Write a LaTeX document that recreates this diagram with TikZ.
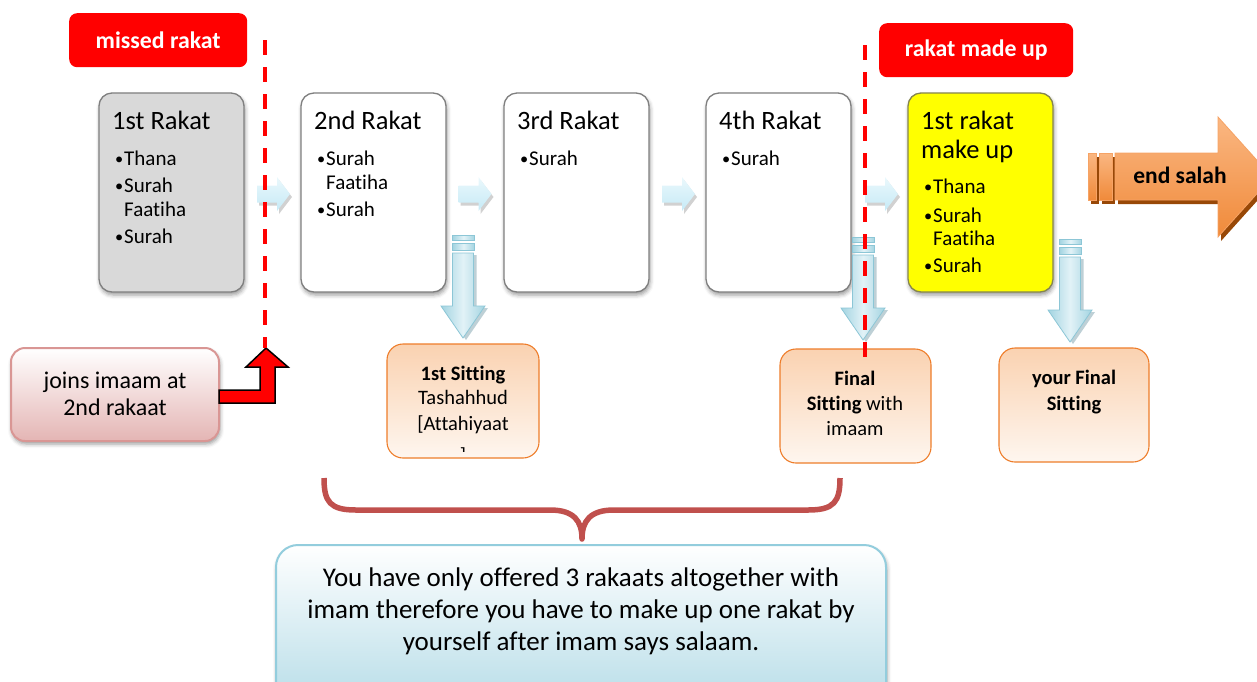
\documentclass[tikz,border=0pt]{standalone}
\usepackage{fontspec}
\setmainfont{Carlito}[Ligatures=NoCommon]
\usetikzlibrary{calc,shadows.blur}

\definecolor{cutred}{HTML}{FF0000}
\definecolor{framegray}{HTML}{7F7F7F}
\definecolor{missgray}{HTML}{D9D9D9}
\definecolor{makeyellow}{HTML}{FFFF00}
\definecolor{yelframe}{HTML}{85854F}
\definecolor{sitedge}{HTML}{EE7D2A}
\definecolor{sittop}{HTML}{FAD2B1}
\definecolor{sitbot}{HTML}{FEF6EF}
\definecolor{joinedge}{HTML}{D99694}
\definecolor{joinbot}{HTML}{E4B5B4}
\definecolor{notebot}{HTML}{B7DDE8}
\definecolor{noteedge}{HTML}{93CDDD}
\definecolor{bracered}{HTML}{C0504D}
\definecolor{flowlight}{HTML}{EAF8FC}
\definecolor{flowdark}{HTML}{C6EAF6}
\definecolor{downmid}{HTML}{E2F2F7}
\definecolor{downside}{HTML}{A3D4E1}
\definecolor{downedge}{HTML}{8CC6D6}
\definecolor{downshade}{HTML}{6F97A3}
\definecolor{endtop}{HTML}{FAB782}
\definecolor{endbot}{HTML}{F08A3A}
\definecolor{endedge}{HTML}{F6A365}
\definecolor{endshadow}{HTML}{984807}

% bullet with a fixed hanging width
\newcommand\bul{\makebox[9pt][l]{\raisebox{0.8pt}{\scalebox{0.78}{\textbullet}}}}
\newcommand\hang{\hspace*{9pt}}

\begin{document}
\begin{tikzpicture}[x=1pt,y=-1pt,
  softshadow/.style={blur shadow={shadow xshift=1pt, shadow yshift=-3pt,
      shadow blur radius=4pt, shadow opacity=40}},
  rakatbox/.style={draw=framegray, line width=1.3pt, rounded corners=13pt,
      fill=white, anchor=north west, inner sep=0pt, outer sep=0pt,
      minimum width=145pt, minimum height=199pt, softshadow},
  title/.style={anchor=base west, inner sep=0pt, font=\fontsize{26.5pt}{31pt}\selectfont},
  item/.style={anchor=base west, inner sep=0pt, font=\fontsize{21pt}{25pt}\selectfont},
  tag/.style={fill=cutred, rounded corners=8pt, text=white, inner sep=0pt,
      anchor=north west, font=\bfseries\fontsize{23.8pt}{28pt}\selectfont},
  sitbox/.style={draw=sitedge, line width=1.1pt, rounded corners=16pt,
      top color=sittop, bottom color=sitbot, anchor=north west,
      inner sep=0pt, outer sep=0pt},
  sittxt/.style={anchor=base, inner sep=0pt, font=\fontsize{20.5pt}{25pt}\selectfont},
  joinbox/.style={draw=joinedge, line width=2pt, rounded corners=14pt,
      top color=white, bottom color=joinbot, anchor=north west,
      inner sep=0pt, outer sep=0pt, softshadow},
  jointxt/.style={anchor=base, inner sep=0pt, font=\fontsize{24pt}{29pt}\selectfont},
  notebox/.style={draw=noteedge, line width=2pt, rounded corners=22pt,
      top color=white, bottom color=notebot, anchor=north west,
      inner sep=0pt, outer sep=0pt, softshadow},
  notetxt/.style={anchor=base, inner sep=0pt, font=\fontsize{27pt}{32pt}\selectfont},
  reddash/.style={draw=cutred, line width=3.5pt, dash pattern=on 15pt off 12pt},
  bentarrow/.style={fill=cutred, draw=black, line width=1.5pt, line join=miter},
  brace/.style={draw=bracered, line width=5.5pt, line join=round},
  % light arrow between two rakat boxes
  flowright/.pic={
    \begin{scope}[shift={(2,3)}]
      \fill[black, opacity=0.18] (-16.5,-8.5) -- (3.5,-8.5) -- (3.5,-17) -- (16.5,0)
        -- (3.5,17) -- (3.5,8.5) -- (-16.5,8.5) -- cycle;
    \end{scope}
    \shade[top color=flowlight, bottom color=flowdark]
      (-16.5,-8.5) -- (3.5,-8.5) -- (3.5,-17) -- (16.5,0)
      -- (3.5,17) -- (3.5,8.5) -- (-16.5,8.5) -- cycle;
  },
  % striped downward arrow, origin at its tip
  dropdown/.pic={
    \begin{scope}[shift={(3,2)}]
      \fill[downshade, opacity=0.45] (-10.5,-85) -- (10.5,-85) -- (10.5,-32) -- (22,-32)
        -- (0,0) -- (-22,-32) -- (-10.5,-32) -- cycle;
    \end{scope}
    \shadedraw[left color=downside, right color=downside, middle color=downmid,
        draw=downedge, line width=0.8pt]
      (-10.5,-103) rectangle (11.5,-98);
    \shadedraw[left color=downside, right color=downside, middle color=downmid,
        draw=downedge, line width=0.8pt]
      (-10.5,-95) rectangle (11.5,-88);
    \shadedraw[left color=downside, right color=downside, middle color=downmid,
        draw=downedge, line width=0.8pt]
      (-10.5,-85) -- (10.5,-85) -- (10.5,-32) -- (22,-32)
      -- (0,0) -- (-22,-32) -- (-10.5,-32) -- cycle;
  }
]
\useasboundingbox (0,0) rectangle (1257,681);
\clip (0,0) rectangle (1257,681);

% the five rakat boxes
\node[rakatbox, fill=missgray] (r1) at (99,93) {};
\node[rakatbox] (r2) at (301,93) {};
\node[rakatbox] (r3) at (504,93) {};
\node[rakatbox] (r4) at (706,93) {};
\node[rakatbox, fill=makeyellow, draw=yelframe] (r5) at (908,93) {};

\node[title] (r1t) at (112,129) {1st Rakat};
\node[item] (r1a) at (115,165) {\bul Thana};
\node[item] (r1b) at (115,192) {\bul Surah};
\node[item] (r1c) at (115,216) {\hang Faatiha};
\node[item] (r1d) at (115,243) {\bul Surah};

\node[title] (r2t) at (314,129) {2nd Rakat};
\node[item] (r2a) at (317,165) {\bul Surah};
\node[item] (r2b) at (317,189) {\hang Faatiha};
\node[item] (r2c) at (317,216) {\bul Surah};

\node[title] (r3t) at (517,129) {3rd Rakat};
\node[item] (r3a) at (520,165) {\bul Surah};

\node[title] (r4t) at (719,129) {4th Rakat};
\node[item] (r4a) at (722,165) {\bul Surah};

\node[title] (r5t) at (921,129) {1st rakat};
\node[title] (r5u) at (921,158) {make up};
\node[item] (r5a) at (924,193) {\bul Thana};
\node[item] (r5b) at (924,222) {\bul Surah};
\node[item] (r5c) at (924,245) {\hang Faatiha};
\node[item] (r5d) at (924,272) {\bul Surah};

% arrows between consecutive rakats
\pic (f12) at ($(r1.east)!0.5!(r2.west)+(1,1.5)$) {flowright};
\pic (f23) at ($(r2.east)!0.5!(r3.west)+(0,1.5)$) {flowright};
\pic (f34) at ($(r3.east)!0.5!(r4.west)+(1,1.5)$) {flowright};
\pic (f45) at ($(r4.east)!0.5!(r5.west)+(2,1.5)$) {flowright};

% sitting boxes
\node[sitbox, minimum width=152pt, minimum height=114pt] (s1) at (387,344) {};
\node[sitbox, minimum width=151pt, minimum height=114pt] (s2) at (780,349) {};
\node[sitbox, minimum width=150pt, minimum height=114pt] (s3) at (999,348) {};

\pic (d1) at ([yshift=6pt]s1.north) {dropdown};
\pic (d2) at ([xshift=7.5pt,yshift=9pt]s2.north) {dropdown};
\pic (d3) at ([xshift=-4pt,yshift=6pt]s3.north) {dropdown};

\node[sittxt] (s1a) at (463,380) {\textbf{1st Sitting}};
\node[sittxt] (s1b) at (463,404) {Tashahhud};
\node[sittxt] (s1c) at (463,430) {[Attahiyaat};
\begin{scope}
  \clip (387,344) rectangle (539,451);
  \node[sittxt] (s1d) at (463,462) {]};
\end{scope}

\node[sittxt] (s2a) at (855,385) {\textbf{Final}};
\node[sittxt] (s2b) at (855,410) {\textbf{Sitting} with};
\node[sittxt] (s2c) at (855,435) {imaam};

\node[sittxt] (s3a) at (1074,384) {\textbf{your Final}};
\node[sittxt] (s3b) at (1074,410) {\textbf{Sitting}};

% late arrival
\node[joinbox, minimum width=208pt, minimum height=93pt] (joins) at (11,348) {};
\node[jointxt] (joinsa) at (115,388) {joins imaam at};
\node[jointxt] (joinsb) at (115,415) {2nd rakaat};

\coordinate (jointip) at (266,348);
\draw[bentarrow] ($(joins.east)+(0,-4.5)$) -- ($(jointip)+(-6,42)$)
  -- ($(jointip)+(-6,19)$) -- ($(jointip)+(-20,19)$) -- (jointip)
  -- ($(jointip)+(22,19)$) -- ($(jointip)+(9,19)$) -- ($(jointip)+(9,55)$)
  -- ($(joins.east)+(0,8.5)$) -- cycle;

% cut lines
\coordinate (cut1top) at (265,40);
\coordinate (cut2top) at (865,45);
\coordinate (cut2bot) at (865,358);
\draw[reddash] (cut1top) -- (cut1top |- jointip);
\draw[reddash] (cut2top) -- (cut2bot);

% explanation
\node[notebox, minimum width=610pt, minimum height=160pt] (note) at (276,545) {};
\node[notetxt] (notea) at (581,586) {You have only offered 3 rakaats altogether with};
\node[notetxt] (noteb) at (581,618) {imam therefore you have to make up one rakat by};
\node[notetxt] (notec) at (581,650) {yourself after imam says salaam.};

\coordinate (braceL) at (324,478);
\coordinate (braceR) at (840,478);
\coordinate (braceTip) at ($(note.north)+(1,-6)$);
\draw[brace] (braceL) .. controls +(0,24) and +(-26,0) .. (356,510) -- (550,510)
  .. controls +(24,0) and +(0,-18) .. (braceTip)
  .. controls +(0,-18) and +(-24,0) .. (614,510) -- (808,510)
  .. controls +(26,0) and +(0,24) .. (braceR);

% end of prayer arrow
\begin{scope}[shift={(3,4)}]
  \fill[endshadow] (1088,153) rectangle (1096,200);
  \fill[endshadow] (1099,153) rectangle (1112,200);
  \fill[endshadow] (1115,153) -- (1218,153) -- (1218,117) -- (1272,177)
    -- (1218,237) -- (1218,200) -- (1115,200) -- cycle;
\end{scope}
\shadedraw[top color=endtop, bottom color=endbot, draw=endedge, line width=0.8pt]
  (1088,153) rectangle (1096,200);
\shadedraw[top color=endtop, bottom color=endbot, draw=endedge, line width=0.8pt]
  (1099,153) rectangle (1112,200);
\shadedraw[top color=endtop, bottom color=endbot, draw=endedge, line width=0.8pt]
  (1115,153) -- (1218,153) -- (1218,117) -- (1272,177)
  -- (1218,237) -- (1218,200) -- (1115,200) -- cycle;
\node[inner sep=0pt, font=\bfseries\fontsize{23.5pt}{28pt}\selectfont] (endsalah)
  at (1180,175) {end salah};

% red labels
\node[tag, minimum width=178pt, minimum height=54pt] (missed) at (69,13) {missed rakat};
\node[tag, minimum width=194pt, minimum height=54pt] (madeup) at (879,23) {rakat made up};
\end{tikzpicture}
\end{document}
